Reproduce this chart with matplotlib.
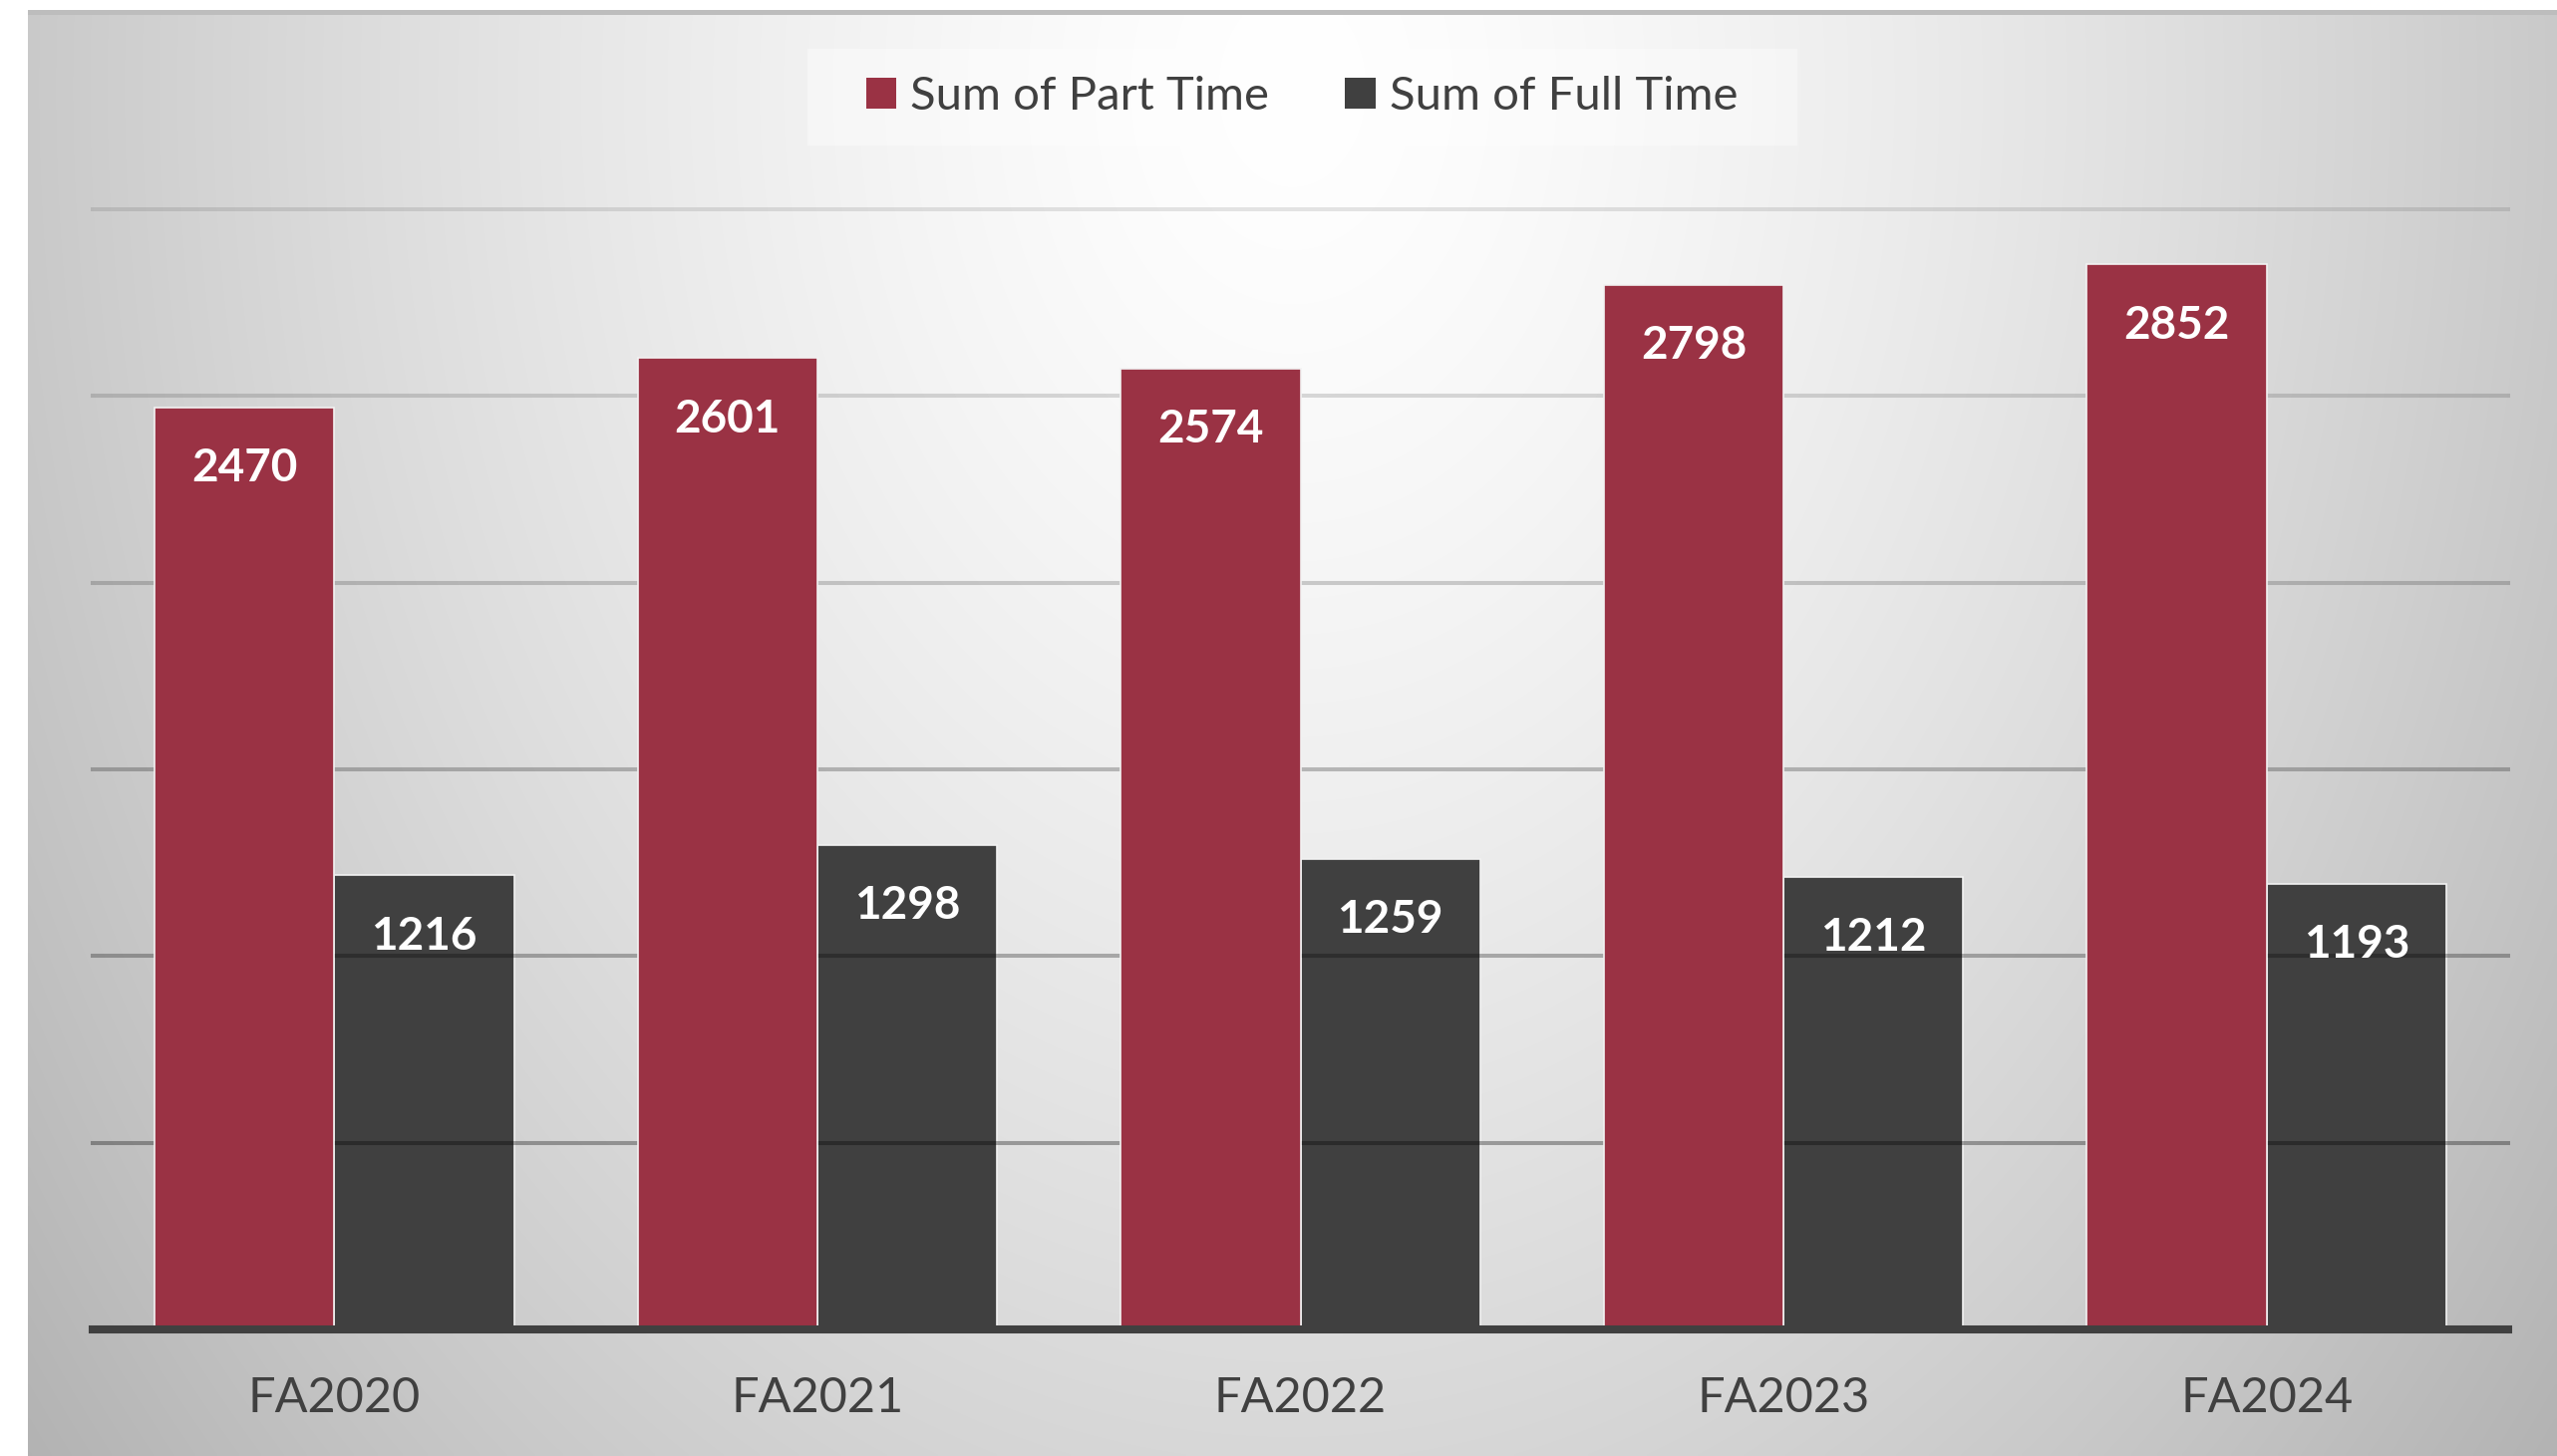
import numpy as np
import matplotlib
matplotlib.use("Agg")
import matplotlib.pyplot as plt
from matplotlib.patches import Patch, Rectangle

# ---- data ----
categories = ["FA2020", "FA2021", "FA2022", "FA2023", "FA2024"]
part_time = [2470, 2601, 2574, 2798, 2852]
full_time = [1216, 1298, 1259, 1212, 1193]
series_names = ["Sum of Part Time", "Sum of Full Time"]
grid_levels = [500, 1000, 1500, 2000, 2500, 3000]

RED = "#9a3244"
DARK = "#404040"
TEXT = "#404040"

plt.rcParams["font.family"] = ["Lato", "DejaVu Sans"]

W, H = 2565, 1461
fig = plt.figure(figsize=(W / 100, H / 100), dpi=100)
fig.patch.set_facecolor("white")

# ---- background radial gradient panel ----
px0 = 28 / W
py_top = 15 / H
bg = fig.add_axes([px0, 0, 1 - px0, 1 - py_top], zorder=0)
nx, ny = 600, 400
xx, yy = np.meshgrid(np.linspace(0, 1, nx), np.linspace(0, 1, ny))
u = (xx - 0.5) / 0.5
v = (yy - 0.05) * 0.85
r = np.sqrt(u ** 2 + v ** 2)
val = np.clip(1 - 0.21 * r ** 1.4, 0, 1)
img = np.dstack([val, val, val])
bg.imshow(img, aspect="auto", extent=[0, 1, 1, 0], interpolation="bilinear")
bg.set_xlim(0, 1)
bg.set_ylim(1, 0)
bg.axis("off")

# top border line
fig.add_artist(Rectangle((px0, 1 - 15 / H), 1 - px0, 5 / H, transform=fig.transFigure,
                         facecolor="#bdbdbd", edgecolor="none", zorder=1))

# legend background box
fig.add_artist(Rectangle((810 / W, 1 - 146 / H), 993 / W, 97 / H, transform=fig.transFigure,
                         facecolor="white", alpha=0.4, edgecolor="none", zorder=1))

# ---- main axes ----
ax_left = 93 / W
ax_right = 2516 / W
ax_bottom = (H - 1334) / H
ax_top = (H - 210) / H
ax = fig.add_axes([ax_left, ax_bottom, ax_right - ax_left, ax_top - ax_bottom], zorder=2)
ax.set_facecolor("none")

x = np.arange(len(categories))
w = 0.372
b1 = ax.bar(x - w / 2, part_time, width=w, color=RED, edgecolor="#f2f2f2", linewidth=1.2, zorder=4)
b2 = ax.bar(x + w / 2, full_time, width=w, color=DARK, edgecolor="#f2f2f2", linewidth=1.2, zorder=2)

alphas = [0.32, 0.28, 0.24, 0.18, 0.14, 0.10]
for lvl, a in zip(grid_levels, alphas):
    ax.axhline(lvl, color="black", alpha=a, linewidth=2.9, zorder=3, clip_on=False)

ax.axhline(0, color=DARK, linewidth=5.8, zorder=5, clip_on=False)

for rects, vals in ((b1, part_time), (b2, full_time)):
    for rect, val in zip(rects, vals):
        ax.annotate(str(val), xy=(rect.get_x() + rect.get_width() / 2, val),
                    xytext=(0, -44), textcoords="offset points",
                    ha="center", va="center", color="white", fontsize=33,
                    fontweight="bold", zorder=6)

ax.set_xlim(-0.5, len(categories) - 0.5)
ax.set_ylim(0, 3000)
ax.set_xticks(x)
ax.set_xticklabels(categories, fontsize=35, color=TEXT)
ax.tick_params(axis="x", length=0, pad=34)
ax.set_yticks([])
for s in ax.spines.values():
    s.set_visible(False)

handles = [Patch(facecolor=RED, edgecolor="none"), Patch(facecolor=DARK, edgecolor="none")]
leg = fig.legend(handles, series_names, loc="center", bbox_to_anchor=(1306 / W, 1 - 97 / H),
                 ncol=2, frameon=False, fontsize=34, handlelength=0.65, handleheight=0.65,
                 handletextpad=0.3, columnspacing=1.6, labelcolor=TEXT)
leg.set_zorder(7)

fig.savefig("out.png", dpi=100)
